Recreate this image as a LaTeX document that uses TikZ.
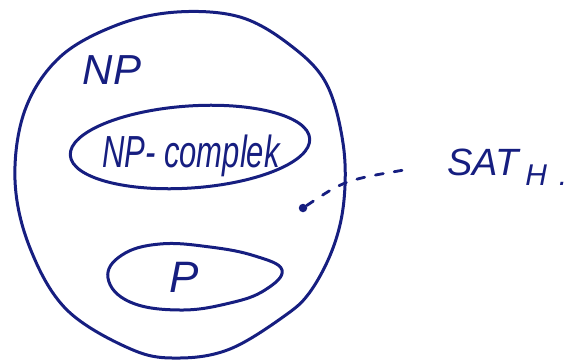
\documentclass[tikz,border=0pt]{standalone}
\usepackage{fontspec}
\setmainfont{Liberation Sans}
\definecolor{ink}{RGB}{22,30,128}
\begin{document}
\begin{tikzpicture}[x=1pt,y=-1pt,
  inkline/.style={draw=ink, line width=3pt, line cap=round, line join=round},
  hand/.style={text=ink, font=\itshape, inner sep=0pt},
  dotmark/.style={circle, fill=ink, inner sep=0pt, minimum size=8.5pt},
  conn/.style={draw=ink, line width=2.8pt, dash pattern=on 8pt off 11pt, line cap=round}]
\useasboundingbox (0,0) rectangle (583,361);
% outer set NP
\draw[inkline] plot[smooth cycle, tension=0.6] coordinates {
  (177,12) (240,17) (290,45) (326,83) (343,143) (344,200) (333,248)
  (310,292) (283,317) (230,349) (180,358) (133,350) (67,310) (30,248)
  (15,180) (25,110) (60,57) (117,25)};
% NP-complete ellipse
\draw[inkline] (190,147) ellipse [x radius=120, y radius=41, rotate=4];
% P ellipse
\draw[inkline] plot[smooth cycle, tension=0.7] coordinates {
  (108,278) (122,255) (160,244) (210,247) (255,256) (282,270)
  (265,290) (230,303) (180,310) (130,302)};
% labels
\node[hand] (np) at (112,70) {\fontsize{42}{42}\selectfont NP};
\node[hand, anchor=base] (npc) at (191,167) {\scalebox{1}[1.45]{\fontsize{31}{31}\selectfont NP- complek}};
\node[hand] (p) at (184,277) {\fontsize{44}{44}\selectfont P};
\node[hand, anchor=base west] (sat) at (447,175) {\fontsize{38}{38}\selectfont SAT\hspace{7pt}\raisebox{-10pt}{\fontsize{30}{30}\selectfont H\hspace{12pt}.}};
% element and dashed connector
\node[dotmark] (el) at (303,208) {};
\coordinate (tail) at (410,169);
\draw[conn] (el) .. controls (345,180) .. (tail);
\end{tikzpicture}
\end{document}
